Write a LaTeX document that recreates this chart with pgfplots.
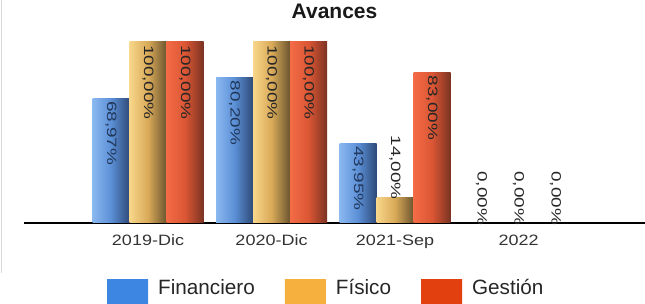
\documentclass[border=0pt]{standalone}
\usepackage{pgfplots}
\pgfplotsset{compat=1.18}
\usepackage{fontspec}
\setmainfont{Liberation Sans}
\definecolor{finL}{HTML}{8AB8F0}
\definecolor{finM}{HTML}{5B8FD6}
\definecolor{finR}{HTML}{2E4A78}
\definecolor{fisL}{HTML}{F8D68A}
\definecolor{fisM}{HTML}{D9AA58}
\definecolor{fisR}{HTML}{6B5530}
\definecolor{gesL}{HTML}{F36C46}
\definecolor{gesM}{HTML}{DB5634}
\definecolor{gesR}{HTML}{7A3323}
\definecolor{finFlat}{HTML}{3D86E2}
\definecolor{fisFlat}{HTML}{F5B03E}
\definecolor{gesFlat}{HTML}{E2410F}
\pgfplotsset{
  barbase/.style={ybar, bar width=37pt, draw=none, bar shift=#1,
    every node near coord/.append style={xshift=#1, rotate=-90, xscale=1.4, anchor=west, inner xsep=2pt, inner ysep=0pt, font=\fontsize{13.5}{16}\selectfont}},
  fin/.style={barbase=-37pt, left color=finL, right color=finR, middle color=finM,
    every node near coord/.append style={text=finR!75!black},
    legend image code/.code={\fill[left color=finFlat, right color=finFlat, middle color=finFlat] (0pt,-37pt) rectangle (41pt,8pt);}},
  fis/.style={barbase=0pt, left color=fisL, right color=fisR, middle color=fisM,
    every node near coord/.append style={text=black!85},
    legend image code/.code={\fill[left color=fisFlat, right color=fisFlat, middle color=fisFlat] (0pt,-37pt) rectangle (41pt,8pt);}},
  ges/.style={barbase=37pt, left color=gesL, right color=gesR, middle color=gesM,
    every node near coord/.append style={text=black!85},
    legend image code/.code={\fill[left color=gesFlat, right color=gesFlat, middle color=gesFlat] (0pt,-37pt) rectangle (41pt,8pt);}},
  outside/.style={every node near coord/.append style={anchor=east, inner xsep=-1.8pt, text=black!85}},
}
\begin{document}
\begin{tikzpicture}
\path[use as bounding box] (0,0) rectangle (645pt,304pt);
\draw[black!15, line width=1pt] (1pt,304pt) -- (1pt,31pt);
\begin{axis}[
  at={(24pt,81.3pt)}, anchor=south west,
  scale only axis, width=621pt, height=180.7pt,
  xmin=-1.004, xmax=4.024, ymin=0, ymax=100,
  clip=false,
  axis y line=none, axis x line=bottom,
  x axis line style={-, line width=1.8pt, black},
  xtick={0,1,2,3}, xticklabels={2019-Dic,2020-Dic,2021-Sep,2022},
  major tick length=0pt,
  xticklabel style={anchor=base, yshift=-23pt, inner sep=0pt, font=\fontsize{15}{18}\selectfont, xscale=1.2, text=black!80},
  title=Avances,
  title style={at={(0.5,1)}, anchor=base, yshift=17pt, inner sep=0pt, font=\bfseries\fontsize{21}{25}\selectfont, text=black!90},
  /pgf/number format/assume math mode=true,
  nodes near coords={\pgfmathprintnumber[fixed,fixed zerofill,precision=2,use comma]{\pgfplotspointmeta}\%},
  legend style={at={(axis description cs:0.13366,-0.5639)}, anchor=south west, draw=none, fill=none,
    legend columns=3, inner sep=0pt, font=\fontsize{20.7}{24}\selectfont, text=black!85,
    /tikz/every odd column/.append style={column sep=10pt},
    /tikz/every even column/.append style={column sep=30pt},
    nodes={inner sep=0pt}},
]
% 2019-Dic
\addplot[fin] coordinates {(0,68.97)};
\addlegendentry{Financiero}
\addplot[fis] coordinates {(0,100)};
\addlegendentry{Físico}
\addplot[ges] coordinates {(0,100)};
\addlegendentry{Gestión}
% 2020-Dic
\addplot[fin, forget plot] coordinates {(1,80.20)};
\addplot[fis, forget plot] coordinates {(1,100)};
\addplot[ges, forget plot] coordinates {(1,100)};
% 2021-Sep
\addplot[fin, forget plot] coordinates {(2,43.95)};
\addplot[fis, outside, forget plot] coordinates {(2,14)};
\addplot[ges, forget plot] coordinates {(2,83)};
% 2022
\addplot[fin, outside, forget plot] coordinates {(3,0)};
\addplot[fis, outside, forget plot] coordinates {(3,0)};
\addplot[ges, outside, forget plot] coordinates {(3,0)};
\end{axis}
\end{tikzpicture}
\end{document}
